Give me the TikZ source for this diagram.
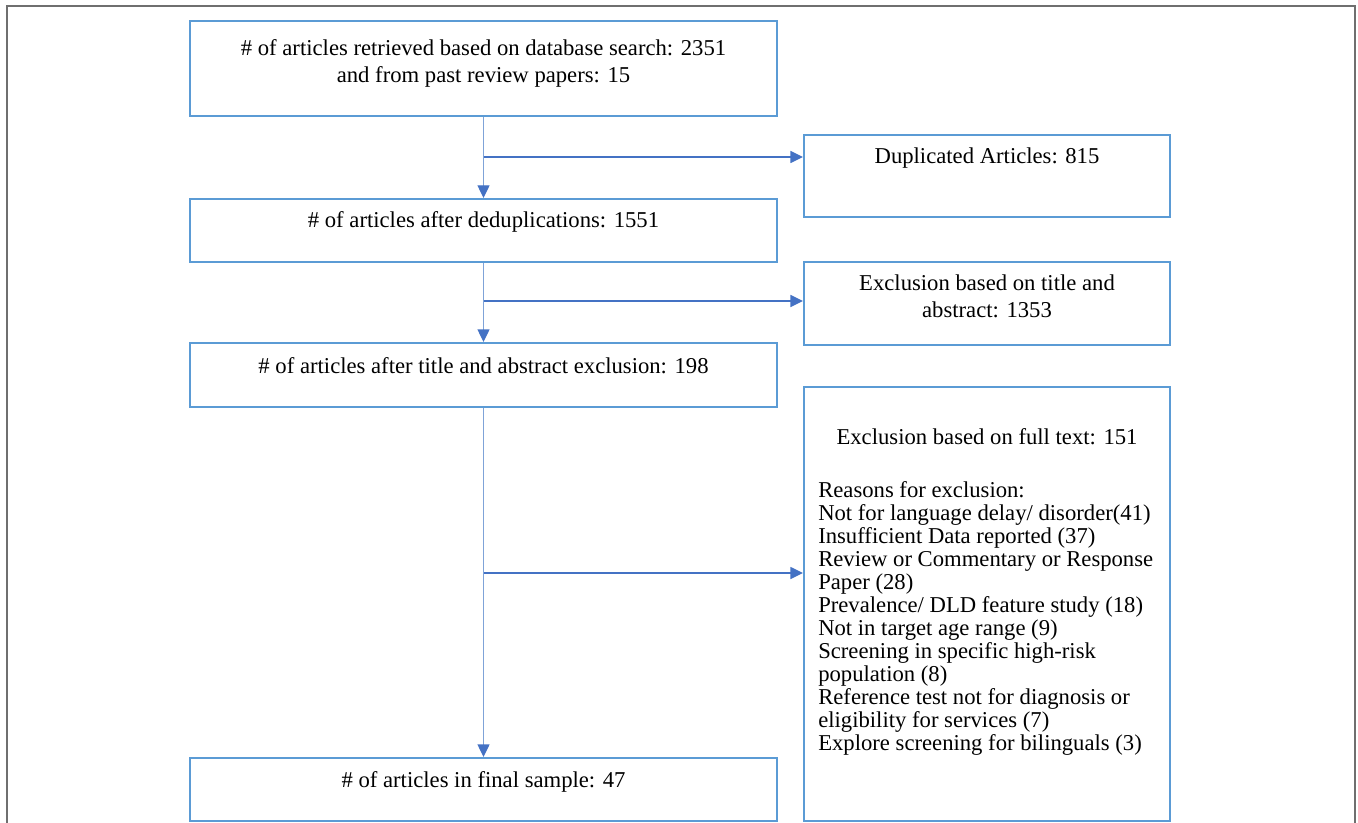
\documentclass[tikz,border=0pt]{standalone}
\usepackage{fontspec}
\setmainfont{Liberation Serif}
\usetikzlibrary{arrows.meta}
\definecolor{boxblue}{HTML}{5B9BD5}
\definecolor{arrblue}{HTML}{4472C4}
\definecolor{vblue}{HTML}{7FA3D8}
\definecolor{framegray}{HTML}{6F6F6F}
\tikzset{
  box/.style={draw=boxblue, line width=1.5pt, rectangle, inner sep=0pt, fill=white},
  txt/.style={inner sep=0pt, font=\fontsize{17}{20.25}\selectfont, anchor=base},
  listtxt/.style={inner sep=0pt, font=\fontsize{17}{17.25}\selectfont, align=left, anchor=north west},
  vline/.style={draw=vblue, line width=1pt, -{Triangle[length=9.5pt, width=9pt, color=arrblue, fill=arrblue]}},
  hline/.style={draw=arrblue, line width=1.1pt, -{Triangle[length=9.5pt, width=9pt, color=arrblue, fill=arrblue]}},
}
\begin{document}
\begin{tikzpicture}[x=0.75pt, y=-0.75pt]
\useasboundingbox (0,0) rectangle (1358,823);
% outer frame (open at bottom)
\draw[framegray, line width=1.5pt] (7,823) -- (7,6) -- (1355,6) -- (1355,823);

% boxes
\node[box, minimum width=440.25pt, minimum height=71.25pt] (b1) at (483.5,68.5) {};
\node[box, minimum width=274.5pt, minimum height=61.5pt] (b2) at (987,176) {};
\node[box, minimum width=440.25pt, minimum height=47.25pt] (b3) at (483.5,230.5) {};
\node[box, minimum width=274.5pt, minimum height=62.25pt] (b4) at (987,303.5) {};
\node[box, minimum width=440.25pt, minimum height=48pt] (b5) at (483.5,375) {};
\node[box, minimum width=274.5pt, minimum height=325.5pt] (b6) at (987,604) {};
\node[box, minimum width=440.25pt, minimum height=47.25pt] (b7) at (483.5,789.5) {};

% texts
\node[txt] (t1a) at (483.5,56) {\# of articles retrieved based on database search: 2351};
\node[txt] (t1b) at (483.5,83) {and from past review papers: 15};
\node[txt] (t2) at (987,164) {Duplicated Articles: 815};
\node[txt] (t3) at (483.5,228) {\# of articles after deduplications: 1551};
\node[txt] (t4a) at (987,291) {Exclusion based on title and};
\node[txt] (t4b) at (987,317) {abstract: 1353};
\node[txt] (t5) at (483.5,373) {\# of articles after title and abstract exclusion: 198};
\node[txt] (t6) at (987,444) {Exclusion based on full text: 151};
\node[listtxt] (t6l) at (818,481) {Reasons for exclusion:\\
Not for language delay/ disorder(41)\\
Insufficient Data reported (37)\\
Review or Commentary or Response\\
Paper (28)\\
Prevalence/ DLD feature study (18)\\
Not in target age range (9)\\
Screening in specific high-risk\\
population (8)\\
Reference test not for diagnosis or\\
eligibility for services (7)\\
Explore screening for bilinguals (3)};
\node[txt] (t7) at (483.5,787) {\# of articles in final sample: 47};

% connectors
\coordinate (j1) at (484,157);
\coordinate (j2) at (484,301);
\coordinate (j3) at (484,573);
\draw[vline] (b1.south) -- (b3.north);
\draw[vline] (b3.south) -- (b5.north);
\draw[vline] (b5.south) -- (b7.north);
\draw[hline] (j1) -- (j1 -| b2.west);
\draw[hline] (j2) -- (j2 -| b4.west);
\draw[hline] (j3) -- (j3 -| b6.west);
\end{tikzpicture}
\end{document}
